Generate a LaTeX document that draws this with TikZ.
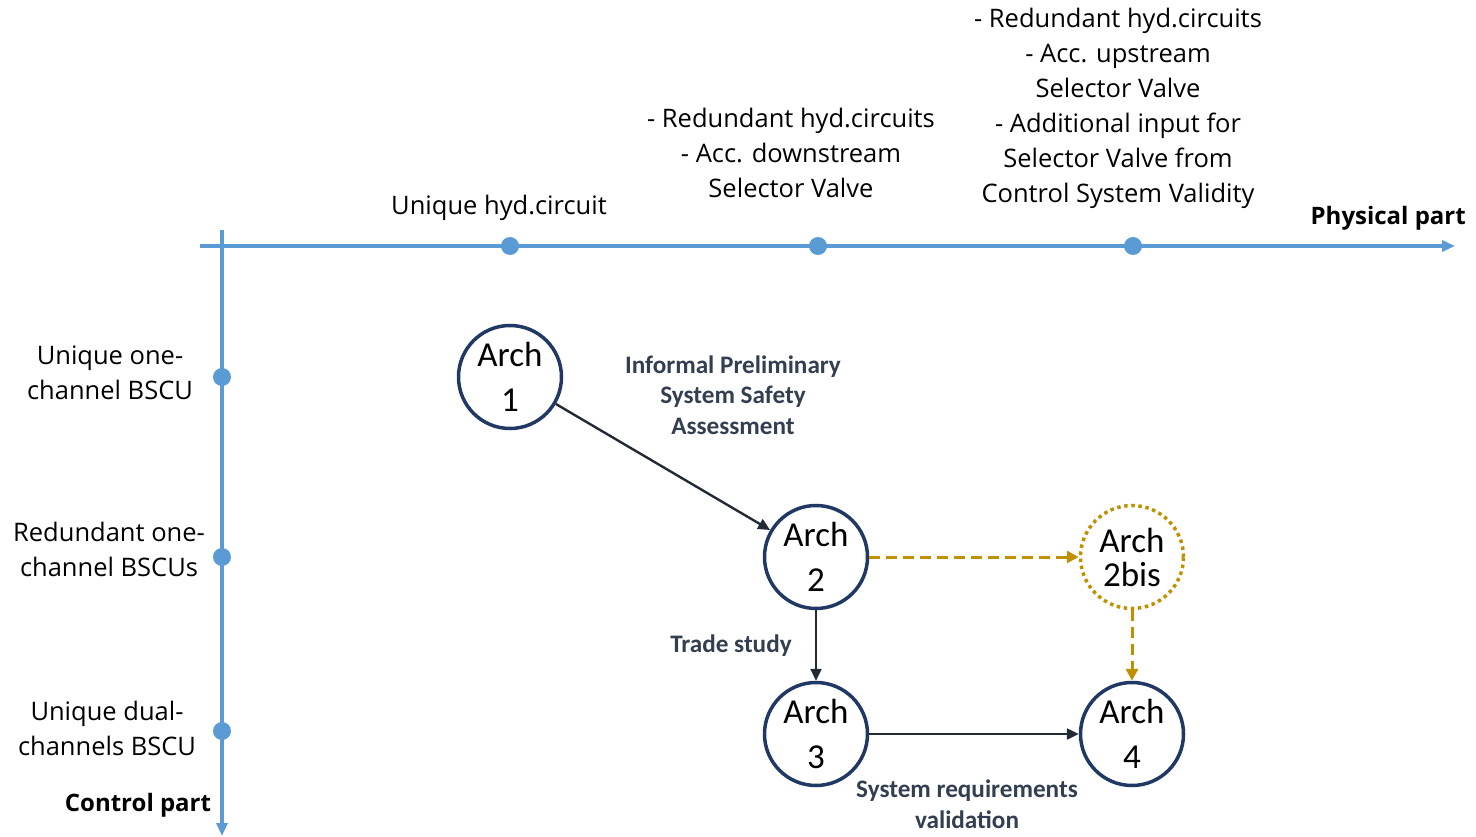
\documentclass[tikz,border=0pt]{standalone}
\usepackage{fontspec}
\setmainfont{Open Sans}
\newfontfamily\archfont{Carlito}
\usetikzlibrary{arrows.meta}
\definecolor{axisblue}{HTML}{5B9BD5}
\definecolor{navy}{HTML}{203864}
\definecolor{edgeink}{HTML}{222A35}
\definecolor{labelink}{HTML}{333F50}
\definecolor{gold}{HTML}{BF9000}
\tikzset{
  axis/.style={draw=axisblue, line width=3.5pt, -{Triangle[length=13pt,width=11pt]}},
  tick/.style={circle, fill=axisblue, inner sep=0pt, minimum size=18pt},
  arch/.style={circle, draw=navy, line width=3.5pt, minimum size=103pt, inner sep=0pt,
    align=center, font=\archfont\fontsize{35}{45}\selectfont},
  archbis/.style={arch, draw=gold, dash pattern=on 3.5pt off 3.6pt},
  flow/.style={draw=edgeink, line width=2.4pt, -{Triangle[length=12pt,width=11pt]}},
  alt/.style={draw=gold, line width=3pt, dash pattern=on 11pt off 6pt, -{Triangle[length=12pt,width=12pt]}},
  axlabel/.style={align=center, inner sep=0pt, font=\fontsize{25.5}{35}\selectfont},
  axtitle/.style={inner sep=0pt, font=\bfseries\fontsize{24}{28}\selectfont},
  steplabel/.style={align=center, inner sep=0pt, text=labelink,
    font=\archfont\bfseries\fontsize{25.2}{30.5}\selectfont}
}
\begin{document}
\begin{tikzpicture}[x=1pt, y=-1pt]
  \useasboundingbox (0,0) rectangle (1476,837);

  % axes
  \coordinate (hstart) at (200,246);
  \coordinate (hend) at (1455,246);
  \coordinate (vstart) at (222,230);
  \coordinate (vend) at (222,836);
  \draw[axis] (hstart) -- (hend);
  \draw[axis] (vstart) -- (vend);

  % physical-part ticks
  \node[tick] (p1) at (510,246) {};
  \node[tick] (p2) at (818,246) {};
  \node[tick] (p3) at (1133,246) {};
  % control-part ticks
  \node[tick] (c1) at (222,377) {};
  \node[tick] (c2) at (222,557) {};
  \node[tick] (c3) at (222,731) {};

  % axis titles
  \node[axtitle, anchor=east] (phys) at (1466,218) {Physical part};
  \node[axtitle] (ctrl) at (138,805) {Control part};

  % physical-part labels
  \node[axlabel] (lp1) at (499,208) {Unique hyd.circuit};
  \node[axlabel] (lp2) at (791,153) {- Redundant hyd.circuits\\- Acc. downstream\\Selector Valve};
  \node[axlabel] (lp3) at (1118,108) {- Redundant hyd.circuits\\- Acc. upstream\\Selector Valve\\- Additional input for\\Selector Valve from\\Control System Validity};

  % control-part labels
  \node[axlabel] (lc1) at (110,373) {Unique one-\\channel BSCU};
  \node[axlabel] (lc2) at (109,549) {Redundant one-\\channel BSCUs};
  \node[axlabel] (lc3) at (107,728) {Unique dual-\\channels BSCU};

  % architectures
  \node[arch] (a1) at (510,377) {Arch\\1};
  \node[arch] (a2) at (816,557) {Arch\\2};
  \node[archbis, font=\archfont\fontsize{35}{34}\selectfont] (a2b) at (1132,557) {Arch\\2bis};
  \node[arch] (a3) at (816,734) {Arch\\3};
  \node[arch] (a4) at (1132,734) {Arch\\4};

  % transitions
  \draw[flow] (a1) -- (a2);
  \draw[flow] (a2) -- (a3);
  \draw[flow] (a3) -- (a4);
  \draw[alt] (a2) -- (a2b);
  \draw[alt] (a2b) -- (a4);

  % transition labels
  \node[steplabel] (s1) at (733,395) {Informal Preliminary\\System Safety\\Assessment};
  \node[steplabel] (s2) at (731,646) {Trade study};
  \node[steplabel] (s3) at (967,804) {System requirements\\validation};
\end{tikzpicture}
\end{document}
